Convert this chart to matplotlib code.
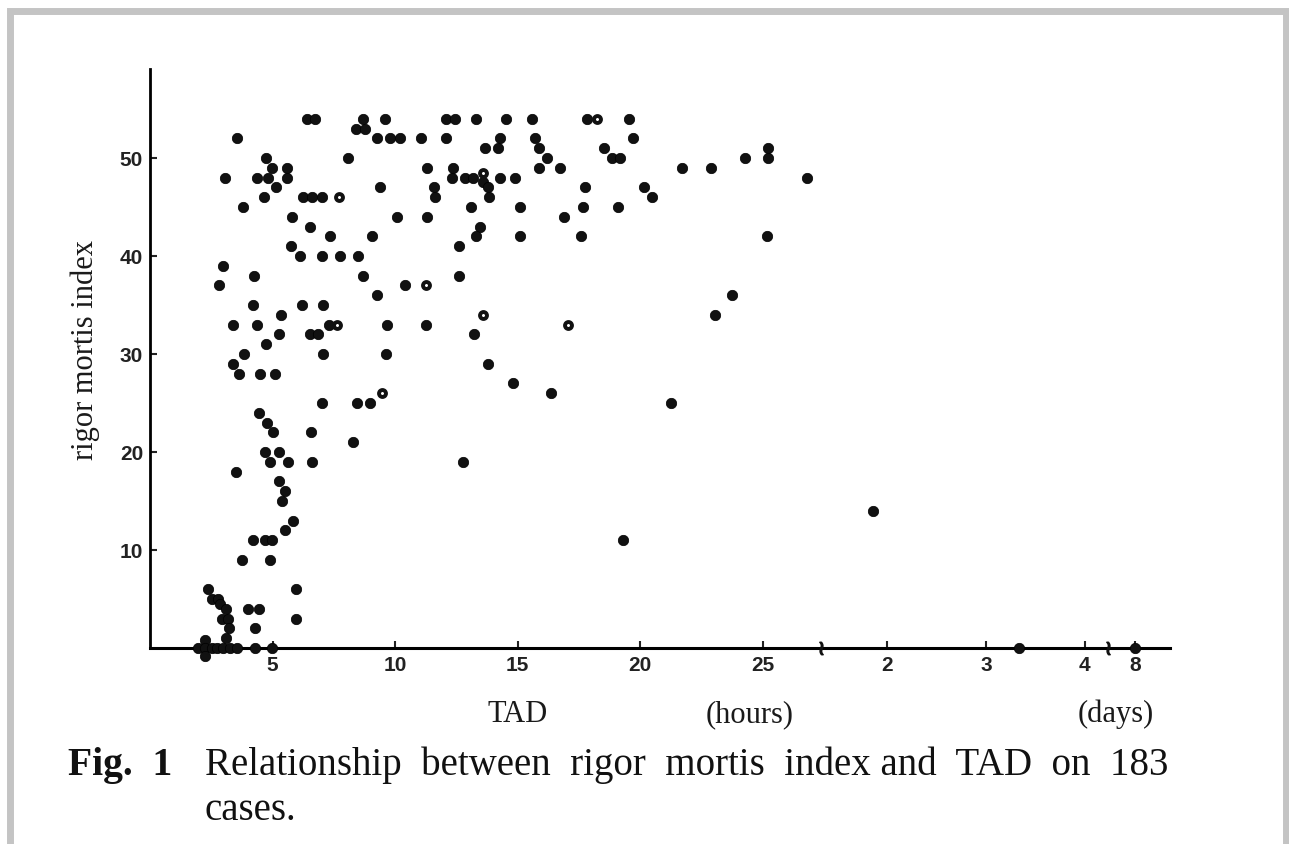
import numpy as np
import matplotlib.pyplot as plt
from matplotlib.patches import Rectangle

# rigor mortis index against time after death (TAD, hours)
tad_hours = [
    6.4, 6.73, 3.54, 4.73, 4.97, 5.58, 3.06, 4.38, 4.83, 5.58,
    5.14, 4.65, 6.26, 6.6, 7.0, 3.78, 5.78, 6.53, 7.35, 5.76,
    6.12, 7.02, 7.76, 2.97, 4.26, 2.82, 4.19, 6.19, 7.05, 5.35,
    3.4, 4.35, 7.32, 5.28, 6.53, 6.87, 4.73, 3.84, 7.05, 3.4,
    3.65, 4.49, 5.1, 7.0, 4.46, 4.76, 5.03, 6.56, 4.69, 5.28,
    4.9, 5.62, 6.6, 3.5, 5.28, 5.51, 5.37, 5.82, 5.51, 4.22,
    4.69, 4.97, 3.74, 4.9, 5.96, 2.35, 2.52, 2.79, 2.86, 3.1,
    3.99, 4.46, 2.93, 3.2, 5.96, 3.24, 4.29, 3.1, 2.24, 1.97,
    2.24, 2.52, 2.74, 2.99, 3.27, 3.54, 4.29, 4.97, 2.24,
    8.71, 9.59, 12.08, 12.45, 13.3, 14.53, 8.41, 8.78, 9.28, 9.8,
    10.2, 11.05, 12.08, 14.29, 13.67, 14.2, 8.1, 11.32, 12.38, 12.31,
    12.86, 13.2, 13.6, 14.29, 14.9, 13.8, 9.39, 11.59, 11.63, 13.85,
    13.09, 15.1, 10.07, 11.29, 13.47, 13.3, 15.1, 9.05, 12.63, 8.5,
    8.71, 12.63, 10.41, 9.28, 9.66, 11.27, 13.22, 9.63, 13.8, 14.8,
    8.44, 8.98, 8.3, 12.79,
    15.58, 17.85, 19.56, 15.71, 19.73, 15.89, 18.53, 16.19, 18.84, 19.18,
    15.89, 16.73, 21.7, 17.76, 20.16, 20.48, 17.69, 19.12, 16.91, 17.59,
    16.35, 21.25, 19.29,
    22.88, 24.29, 25.24, 25.24, 26.8, 25.17, 23.74, 23.06,
]
rigor_index = [
    54, 54, 52, 50, 49, 49, 48, 48, 48, 48,
    47, 46, 46, 46, 46, 45, 44, 43, 42, 41,
    40, 40, 40, 39, 38, 37, 35, 35, 35, 34,
    33, 33, 33, 32, 32, 32, 31, 30, 30, 29,
    28, 28, 28, 25, 24, 23, 22, 22, 20, 20,
    19, 19, 19, 18, 17, 16, 15, 13, 12, 11,
    11, 11, 9, 9, 6, 6, 5, 5, 4.5, 4,
    4, 4, 3, 3, 3, 2, 2, 1, 0.8, 0,
    0, 0, 0, 0, 0, 0, 0, 0, -0.8,
    54, 54, 54, 54, 54, 54, 53, 53, 52, 52,
    52, 52, 52, 52, 51, 51, 50, 49, 49, 48,
    48, 48, 47.6, 48, 48, 47, 47, 47, 46, 46,
    45, 45, 44, 44, 43, 42, 42, 42, 41, 40,
    38, 38, 37, 36, 33, 33, 32, 30, 29, 27,
    25, 25, 21, 19,
    54, 54, 54, 52, 52, 51, 51, 50, 50, 50,
    49, 49, 49, 47, 47, 46, 45, 45, 44, 42,
    26, 25, 11,
    49, 50, 51, 50, 48, 42, 36, 34,
]

# cases printed as hollow dots
tad_hollow = [7.7, 7.62, 9.46, 11.27, 13.58, 17.07, 18.26, 13.58]
rigor_hollow = [46, 33, 26, 37, 34, 33, 54, 48.5]

# late cases, TAD in days
tad_days = [1.86, 3.33, 8.0]
rigor_days = [14, 0, 0]

hour_ticks = [5, 10, 15, 20, 25]
day_ticks = [2, 3, 4, 8]
index_ticks = [10, 20, 30, 40, 50]

# broken time axis: hours up to ~27 h, then days (compressed), then 8 days
DAY = 4.045


def days_part(h):
    return 30.07 + (h - 48) / 24 * DAY


def last_part(h):
    return 40.2 + (h - 192) / 24 * DAY


H_KNOTS = np.array([-100, 27.3, 32.75, 101, 186, 600])
P_KNOTS = np.array([-100, 27.3, days_part(32.75), days_part(101),
                    last_part(186), last_part(600)])


def fwd(h):
    return np.interp(h, H_KNOTS, P_KNOTS)


def inv(p):
    return np.interp(p, P_KNOTS, H_KNOTS)


W, H = 1289, 845
fig = plt.figure(figsize=(W / 100, H / 100), dpi=100)
fig.patch.set_facecolor("white")

# page frame
fig.add_artist(Rectangle((9.5 / W, -0.1), (1286 - 9.5) / W, (H - 11.5) / H + 0.1,
                         transform=fig.transFigure, fill=False,
                         edgecolor="#c4c4c4", linewidth=5.0))

y_top, y_bot = 59.08, -2.0
ax = fig.add_axes([150 / W, (H - 668.6) / H, (1170 - 150) / W, (668.6 - 70) / H])
ax.set_xscale("function", functions=(fwd, inv))
ax.set_xlim(0, 200.5)
ax.set_ylim(y_bot, y_top)

for s in ["top", "right"]:
    ax.spines[s].set_visible(False)
ax.spines["bottom"].set_position(("data", 0))
ax.spines["left"].set_bounds(0, y_top)
ax.spines["left"].set_linewidth(2.0)
ax.spines["bottom"].set_linewidth(2.2)

all_x = tad_hours + [d * 24 for d in tad_days]
all_y = rigor_index + rigor_days
ax.scatter(all_x, all_y, s=56, c="#111111", edgecolors="#000000",
           linewidths=0.5, zorder=3, clip_on=False)
ax.plot(tad_hollow, rigor_hollow, "o", ms=5.0, mfc="white",
        mec="#111111", mew=2.8, zorder=4, clip_on=False)

# break marks on the time axis
for hb in [30, 143]:
    ax.plot([hb], [0], marker=r"$\wr$", ms=9, color="#111111", zorder=5,
            clip_on=False)

ax.set_xticks(hour_ticks + [d * 24 for d in day_ticks],
              labels=[str(t) for t in hour_ticks + day_ticks])
ax.set_yticks(index_ticks, labels=[str(t) for t in index_ticks])
ax.xaxis.set_minor_locator(plt.NullLocator())
ax.tick_params(axis="both", direction="in", length=5, width=1.5,
               labelsize=15, colors="#222222")
ax.tick_params(axis="x", pad=5)
ax.tick_params(axis="y", pad=5)
for lab in ax.get_xticklabels() + ax.get_yticklabels():
    lab.set_family("Liberation Sans")
    lab.set_fontweight("bold")

serif = "Liberation Serif"
fig.text(85 / W, 1 - 350 / H, "rigor mortis index", rotation=90, ha="center",
         va="center", family=serif, fontsize=22, color="#1a1a1a")
fig.text(518 / W, 1 - 722 / H, "TAD", ha="center", va="baseline",
         family=serif, fontsize=22, color="#1a1a1a")
fig.text(750 / W, 1 - 722 / H, "(hours)", ha="center", va="baseline",
         family=serif, fontsize=22, color="#1a1a1a")
fig.text(1116 / W, 1 - 722 / H, "(days)", ha="center", va="baseline",
         family=serif, fontsize=22, color="#1a1a1a")

fig.text(68 / W, 1 - 775 / H, "Fig.  1", ha="left", va="baseline",
         family=serif, fontsize=28.5, fontweight="bold", color="#111111")
fig.text(205 / W, 1 - 775 / H,
         "Relationship  between  rigor  mortis  index and  TAD  on  183",
         ha="left", va="baseline", family=serif, fontsize=28, color="#111111")
fig.text(205 / W, 1 - 820 / H, "cases.", ha="left", va="baseline",
         family=serif, fontsize=28, color="#111111")

fig.savefig("out.png", dpi=100)
